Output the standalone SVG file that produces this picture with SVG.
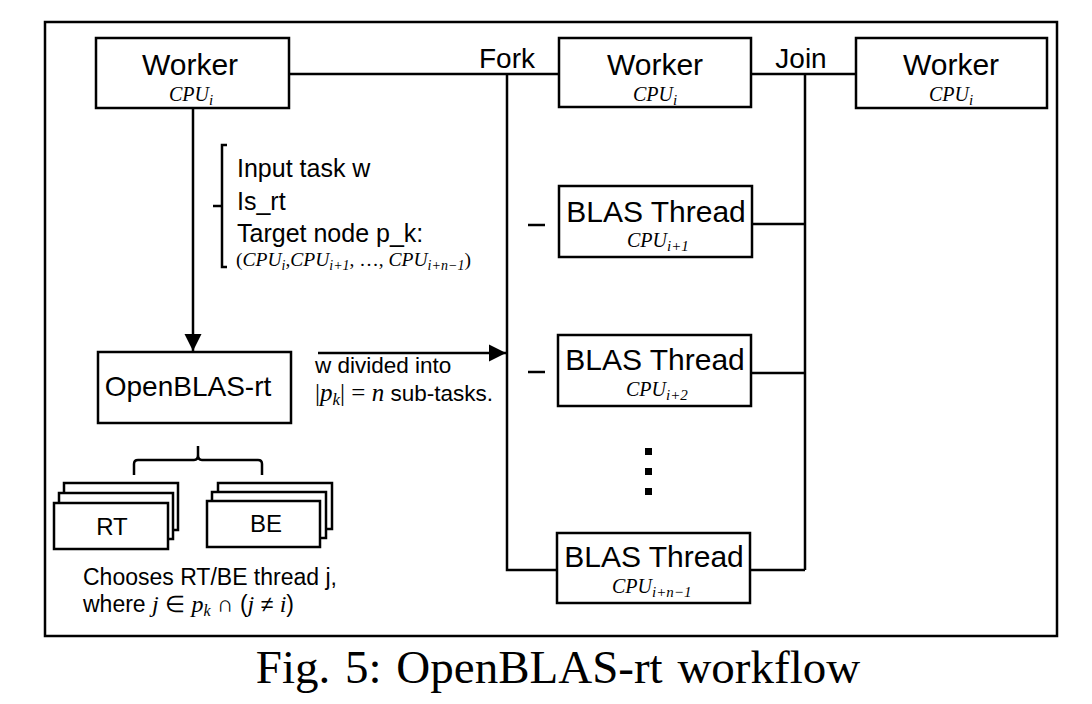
<svg xmlns="http://www.w3.org/2000/svg" width="1092" height="704" viewBox="0 0 1092 704">
<defs>
<style>
.box{fill:#fff;stroke:#000;stroke-width:2.5}
.ln{fill:none;stroke:#000;stroke-width:2.5}
.sans{font-family:"Liberation Sans",Arial,sans-serif;fill:#000}
.math{font-family:"Liberation Serif","Times New Roman",serif;font-style:italic;fill:#000}
.up{font-style:normal}
</style>
<marker id="arr" viewBox="0 0 10 10" refX="10" refY="5" markerWidth="7" markerHeight="7" markerUnits="strokeWidth" orient="auto">
<path d="M0,0 L10,5 L0,10 z" fill="#000"/>
</marker>
</defs>
<rect width="1092" height="704" fill="#fff"/>
<rect x="45" y="22" width="1012" height="614" fill="none" stroke="#000" stroke-width="2.5"/>

<g id="connectors">
<line class="ln" x1="289" y1="74" x2="559" y2="74"/>
<line class="ln" x1="751" y1="74" x2="856" y2="74"/>
<polyline class="ln" points="507,74 507,570 557,570"/>
<line class="ln" x1="805" y1="74" x2="805" y2="570"/>
<line class="ln" x1="752" y1="224" x2="805" y2="224"/>
<line class="ln" x1="751" y1="373" x2="805" y2="373"/>
<line class="ln" x1="750" y1="570" x2="805" y2="570"/>
<line class="ln" x1="193" y1="108" x2="193" y2="351" marker-end="url(#arr)"/>
<line class="ln" x1="318" y1="353" x2="506" y2="353" marker-end="url(#arr)"/>
<line class="ln" x1="528" y1="225" x2="545" y2="225"/>
<line class="ln" x1="528" y1="372" x2="545" y2="372"/>
<text class="sans" x="507" y="68" font-size="28" text-anchor="middle">Fork</text>
<text class="sans" x="801" y="68" font-size="28" text-anchor="middle">Join</text>
</g>

<g id="worker1">
<rect class="box" x="96" y="38" width="193" height="70"/>
<text class="sans" x="190" y="75" font-size="30" text-anchor="middle">Worker</text>
<text class="math" x="169" y="101" font-size="20">CPU<tspan font-size="15" dy="4">i</tspan></text>
</g>
<g id="worker2">
<rect class="box" x="559" y="38" width="192" height="69"/>
<text class="sans" x="655" y="75" font-size="30" text-anchor="middle">Worker</text>
<text class="math" x="633" y="101" font-size="20">CPU<tspan font-size="15" dy="4">i</tspan></text>
</g>
<g id="worker3">
<rect class="box" x="856" y="38" width="191" height="70"/>
<text class="sans" x="951" y="75" font-size="30" text-anchor="middle">Worker</text>
<text class="math" x="929" y="101" font-size="20">CPU<tspan font-size="15" dy="4">i</tspan></text>
</g>

<g id="blas1">
<rect class="box" x="559" y="186" width="193" height="71"/>
<text class="sans" x="656" y="222" font-size="30" text-anchor="middle">BLAS Thread</text>
<text class="math" x="627" y="247" font-size="20">CPU<tspan font-size="15" dy="4">i+1</tspan></text>
</g>
<g id="blas2">
<rect class="box" x="558" y="335" width="193" height="71"/>
<text class="sans" x="655" y="370" font-size="30" text-anchor="middle">BLAS Thread</text>
<text class="math" x="626" y="396" font-size="20">CPU<tspan font-size="15" dy="4">i+2</tspan></text>
</g>
<g id="dots">
<rect x="645" y="448" width="7" height="7" fill="#000"/>
<rect x="645" y="468" width="7" height="7" fill="#000"/>
<rect x="645" y="488" width="7" height="7" fill="#000"/>
</g>
<g id="blas3">
<rect class="box" x="557" y="533" width="193" height="70"/>
<text class="sans" x="654" y="567" font-size="30" text-anchor="middle">BLAS Thread</text>
<text class="math" x="612" y="593" font-size="20">CPU<tspan font-size="15" dy="4">i+n−1</tspan></text>
</g>

<g id="inputs">
<polyline class="ln" points="227,145 222,145 222,267 227,267"/>
<line class="ln" x1="213" y1="206" x2="222" y2="206"/>
<text class="sans" x="237" y="177" font-size="25">Input task w</text>
<text class="sans" x="237" y="210" font-size="25">Is_rt</text>
<text class="sans" x="237" y="242" font-size="25">Target node p_k:</text>
<text class="math" x="236" y="266" font-size="19.5"><tspan class="up">(</tspan>CPU<tspan font-size="14" dy="4">i</tspan><tspan dy="-4" class="up">,</tspan>CPU<tspan font-size="14" dy="4">i+1</tspan><tspan dy="-4" class="up">, …, </tspan>CPU<tspan font-size="14" dy="4">i+n−1</tspan><tspan dy="-4" class="up">)</tspan></text>
</g>

<g id="openblas">
<rect class="box" x="98" y="352" width="193" height="71"/>
<text class="sans" x="188" y="396" font-size="28" text-anchor="middle">OpenBLAS-rt</text>
</g>

<g id="divided">
<text class="sans" x="315" y="373" font-size="22.5">w divided into</text>
<text class="math" x="315" y="401" font-size="25"><tspan class="up">|</tspan>p<tspan font-size="17" dy="4">k</tspan><tspan class="up" dy="-4">| = </tspan>n<tspan class="sans up" font-size="22.5"> sub-tasks.</tspan></text>
</g>

<g id="brace">
<path class="ln" d="M134,475 V464 Q134,460 138,460 H194 Q198,460 198,455 V446 M198,455 Q198,460 202,460 H258 Q262,460 262,464 V475"/>
</g>

<g id="rt">
<rect class="box" x="64" y="483" width="114" height="47"/>
<rect class="box" x="59" y="493" width="114" height="46"/>
<rect class="box" x="54" y="503" width="114" height="46"/>
<text class="sans" x="112" y="535" font-size="24" text-anchor="middle">RT</text>
</g>
<g id="be">
<rect class="box" x="218" y="483" width="114" height="46"/>
<rect class="box" x="212" y="492" width="114" height="46"/>
<rect class="box" x="207" y="501" width="113" height="46"/>
<text class="sans" x="266" y="532" font-size="24" text-anchor="middle">BE</text>
</g>

<g id="choose">
<text class="sans" x="83" y="585" font-size="23">Chooses RT/BE thread j,</text>
<text class="sans" x="83" y="612" font-size="23">where <tspan class="math" font-size="24">j</tspan>  ∈ <tspan class="math" font-size="24">p<tspan font-size="16" dy="4">k</tspan></tspan><tspan dy="-4"> ∩ (</tspan><tspan class="math" font-size="24">j</tspan>  ≠ <tspan class="math" font-size="24">i</tspan>)</text>
</g>

<text x="558" y="683" font-family="'Liberation Serif','Times New Roman',serif" font-size="47" word-spacing="3" text-anchor="middle">Fig. 5: OpenBLAS-rt workflow</text>
</svg>
